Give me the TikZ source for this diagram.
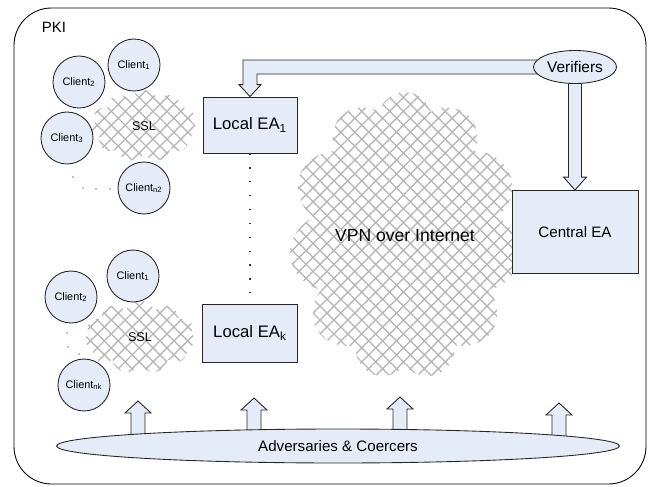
\documentclass[tikz,border=0pt]{standalone}
\usepackage{fontspec}
\setmainfont{Liberation Sans}
\usetikzlibrary{arrows.meta,backgrounds,calc,positioning,shapes.geometric,shapes.symbols,patterns.meta}
\definecolor{pkiFill}{HTML}{E6ECF7}
\definecolor{pkiHatch}{HTML}{B8B8B8}

\tikzset{
  ea/.style={draw=black!85, fill=pkiFill, line width=.5pt, inner sep=0pt},
  client/.style={circle, draw=black!85, fill=pkiFill, line width=.5pt, minimum size=1.04cm,
    inner sep=0pt, font=\fontsize{6.2}{7}\selectfont},
  net/.style={cloud, cloud puffs=11, inner sep=0pt,
    pattern={Hatch[angle=45,distance=5.6pt,line width=.8pt]}, pattern color=pkiHatch},
  fatarrow/.style={draw=black!85, fill=pkiFill, line width=.5pt},
}

\begin{document}
\begin{tikzpicture}[x=0.02cm,y=-0.02cm]
    \useasboundingbox (0,0) rectangle (650,487);
    \draw[line width=.5pt, rounded corners=0.75cm] (14,8) rectangle (646,484);
    \node[font=\fontsize{8.5}{10}\selectfont] (pki) at (54,27) {PKI};

    % hatched networks
    \node[net, minimum width=4.4cm, minimum height=5.76cm, font=\fontsize{10}{12}\selectfont] (vpn) at (405,236) {VPN over Internet};
    \node[net, minimum width=2.1cm, minimum height=1.44cm, font=\fontsize{7.2}{9}\selectfont] (ssl1) at (144,126) {SSL};
    \node[net, minimum width=2.2cm, minimum height=1.46cm, font=\fontsize{7.2}{9}\selectfont] (ssl2) at (140,337) {SSL};

    % clients
    \node[client] (c11) at (134,65) {Client\textsubscript{1}};
    \node[client] (c12) at (79,82) {Client\textsubscript{2}};
    \node[client] (c13) at (67,138) {Client\textsubscript{3}};
    \node[client] (c1n) at (144,188) {Client\textsubscript{n2}};
    \node[client] (ck1) at (133,276) {Client\textsubscript{1}};
    \node[client] (ck2) at (71,297) {Client\textsubscript{2}};
    \node[client] (ckn) at (84,385) {Client\textsubscript{nk}};
    \foreach \p in {(73,177),(83,188),(96,189),(110,189),(67,333),(68,347),(79,354)}
      \fill \p circle[radius=.4pt];

    % enrolment authorities
    \node[ea, minimum width=1.88cm, minimum height=1.12cm, font=\fontsize{9.5}{11}\selectfont] (ea1) at (250,125) {Local EA\textsubscript{1}};
    \node[ea, minimum width=1.9cm, minimum height=1.16cm, font=\fontsize{9.5}{11}\selectfont] (eak) at (250,333) {Local EA\textsubscript{k}};
    \node[ea, minimum width=2.52cm, minimum height=1.66cm, font=\fontsize{8.6}{10}\selectfont] (cea) at (575,232) {Central EA};
    \draw[black!80, line width=.7pt, dash pattern=on .7pt off 7.2pt] (ea1.south) -- (eak.north);

    \node[ellipse, ea, minimum width=1.66cm, minimum height=.66cm, font=\fontsize{8.8}{10}\selectfont] (ver) at (575,67) {Verifiers};
    \node[ellipse, ea, minimum width=11.26cm, minimum height=.68cm, font=\fontsize{8.6}{10}\selectfont] (adv) at (338,446) {Adversaries \& Coercers};

    \foreach \i/\x/\y in {1/138/401, 2/254/398, 3/400/397, 4/559/403}
      \coordinate (hit\i) at (\x,\y);

    \begin{scope}[on background layer]
      \draw[fatarrow] ($(ver.center)+(0,-7)$) -- ($(ea1.north |- ver.center)+(-7,-7)$)
        -- ($(ea1.north)+(-7,-12)$) -- ($(ea1.north)+(-11,-12)$) -- (ea1.north)
        -- ($(ea1.north)+(11,-12)$) -- ($(ea1.north)+(7,-12)$)
        -- ($(ea1.north |- ver.center)+(7,7)$) -- ($(ver.center)+(0,7)$) -- cycle;
      \draw[fatarrow] ($(ver.center)+(-6.5,0)$) -- ($(cea.north)+(-6.5,-13)$)
        -- ($(cea.north)+(-11.5,-13)$) -- (cea.north) -- ($(cea.north)+(11.5,-13)$)
        -- ($(cea.north)+(6.5,-13)$) -- ($(ver.center)+(6.5,0)$) -- cycle;
      \foreach \i in {1,...,4}
        \draw[fatarrow] ($(hit\i |- adv.center)+(-7,0)$) -- ($(hit\i)+(-7,12)$)
          -- ($(hit\i)+(-13,12)$) -- (hit\i) -- ($(hit\i)+(13,12)$)
          -- ($(hit\i)+(7,12)$) -- ($(hit\i |- adv.center)+(7,0)$) -- cycle;
    \end{scope}
\end{tikzpicture}
\end{document}
